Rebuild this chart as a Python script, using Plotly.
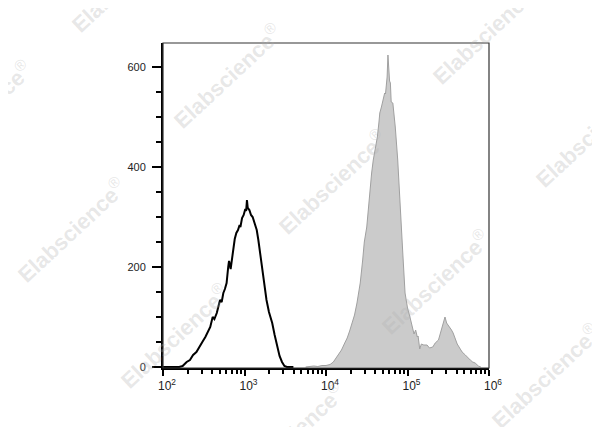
import plotly.graph_objects as go

# Isotype control (black outline histogram): fluorescence intensity vs. count
iso_x = [100, 126, 158, 174, 195, 214, 234, 257, 282, 309, 331, 355, 380, 407, 427,
         457, 479, 501, 525, 550, 575, 603, 631, 646, 676, 692, 724, 759, 794, 832,
         871, 891, 933, 977, 1023, 1047, 1072, 1096, 1148, 1202, 1259, 1318, 1413,
         1479, 1549, 1622, 1698, 1778, 1862, 1995, 2188, 2344, 2512, 2692, 2884,
         3090, 3311, 3981]
iso_y = [0, 0, 0, 2, 10, 14, 24, 30, 40, 52, 60, 70, 80, 100, 96,
         108, 124, 134, 130, 148, 156, 168, 200, 212, 196, 210, 240, 256, 268, 274,
         284, 280, 298, 304, 316, 312, 334, 318, 314, 304, 300, 290, 274,
         254, 228, 204, 180, 158, 134, 110, 88, 64, 40, 22, 10,
         2, 0, 0]

# Stained sample (gray filled histogram)
stain_x = [5623, 6310, 7079, 7943, 8913, 10000, 11220, 12303, 13490, 14454, 15488,
           16982, 18197, 19498, 20893, 22387, 23988, 25119, 26303, 28184, 29512,
           31623, 33113, 34674, 36308, 38019, 40738, 42658, 44668, 45709, 47863,
           50119, 52481, 53703, 54954, 56234, 57544, 58884, 60256, 61660, 63096,
           66069, 70795, 75858, 81283, 87096, 93325, 100000, 107152, 114815,
           120226, 125893, 131826, 134896, 141254, 147911, 158489, 173780, 186209,
           204174, 218776, 239883, 251189, 263027, 275423, 288403, 301995, 316228,
           331131, 346737, 363078, 380189, 407380, 436516, 467735, 512861, 549541,
           588844, 630957, 676083, 741310, 794328]
stain_y = [0, 1, 2, 1, 3, 3, 5, 10, 20, 26, 34,
           48, 58, 72, 88, 104, 128, 150, 168, 214, 250,
           280, 320, 354, 388, 414, 440, 460, 490, 508, 520,
           534, 548, 546, 568, 580, 624, 590, 572, 568, 530,
           528, 480, 414, 334, 234, 148, 118, 100, 80,
           66, 74, 60, 62, 36, 46, 44, 44, 38,
           40, 48, 54, 66, 80, 90, 100, 88, 84,
           80, 74, 68, 58, 46, 38, 30, 24, 18,
           14, 10, 8, 2, 0]

x_tickvals = [1e2, 1e3, 1e4, 1e5, 1e6]
x_ticktext = ["10<sup>2</sup>", "10<sup>3</sup>", "10<sup>4</sup>",
              "10<sup>5</sup>", "10<sup>6</sup>"]
y_tickvals = [0, 200, 400, 600]

watermark_text = "<b>Elabscience</b><sup>®</sup>"
watermark_centers = [(125, -20), (-22, 112), (227, 76), (486, 32), (589, 135),
                     (332, 182), (71, 230), (174, 336), (435, 282), (545, 376),
                     (290, 435)]

# page body has an 8px default margin; compensate so the plot box lands at
# x 163..489, y 43..368 in the window
OFF = 8
L, T, PW, PH = 163 - OFF, 43 - OFF, 326, 325

fig = go.Figure()
fig.add_trace(go.Scatter(
    x=stain_x, y=stain_y, mode="lines", fill="tozeroy",
    fillcolor="#cbcbcb", line=dict(color="#a0a0a0", width=1),
    hoverinfo="skip", showlegend=False))
fig.add_trace(go.Scatter(
    x=iso_x, y=iso_y, mode="lines",
    line=dict(color="#000000", width=2),
    hoverinfo="skip", showlegend=False))

fig.update_xaxes(
    type="log", range=[2, 6], showgrid=False, zeroline=False,
    showline=True, linecolor="#000000", linewidth=2,
    tickvals=x_tickvals, ticktext=x_ticktext,
    ticks="outside", ticklen=6, tickwidth=2, tickcolor="#000000",
    minor=dict(ticks="outside", ticklen=4, tickwidth=1.5, tickcolor="#000000",
               dtick="D1", showgrid=False),
    tickfont=dict(family="Arial, Liberation Sans, sans-serif", size=12, color="#222222"),
    ticklabelshift=4,
)
fig.update_yaxes(
    range=[-2, 648], showgrid=False, zeroline=False,
    showline=True, linecolor="#000000", linewidth=2,
    tickvals=y_tickvals,
    ticks="outside", ticklen=9, tickwidth=2, tickcolor="#000000",
    minor=dict(ticks="outside", ticklen=5, tickwidth=1.5, tickcolor="#000000",
               dtick=50, showgrid=False),
    tickfont=dict(family="Arial, Liberation Sans, sans-serif", size=11, color="#222222"),
    ticklabelstandoff=4,
)

# thin frame on top/right
fig.add_shape(type="rect", xref="paper", yref="paper", x0=0, y0=0, x1=1, y1=1,
              line=dict(color="#333333", width=1.2), layer="above")

for cx, cy in watermark_centers:
    fig.add_annotation(
        text=watermark_text, xref="paper", yref="paper",
        x=(cx - 163) / PW, y=(368 - cy) / PH,
        showarrow=False, textangle=-43,
        font=dict(family="Arial, Liberation Sans, sans-serif", size=22,
                  color="rgba(175,175,175,0.30)"),
        xanchor="center", yanchor="middle")

fig.update_layout(
    width=600, height=427,
    margin=dict(l=L, r=600 - L - PW, t=T, b=427 - T - PH),
    paper_bgcolor="#ffffff", plot_bgcolor="#ffffff",
    showlegend=False,
)

fig.write_html("out.html")
